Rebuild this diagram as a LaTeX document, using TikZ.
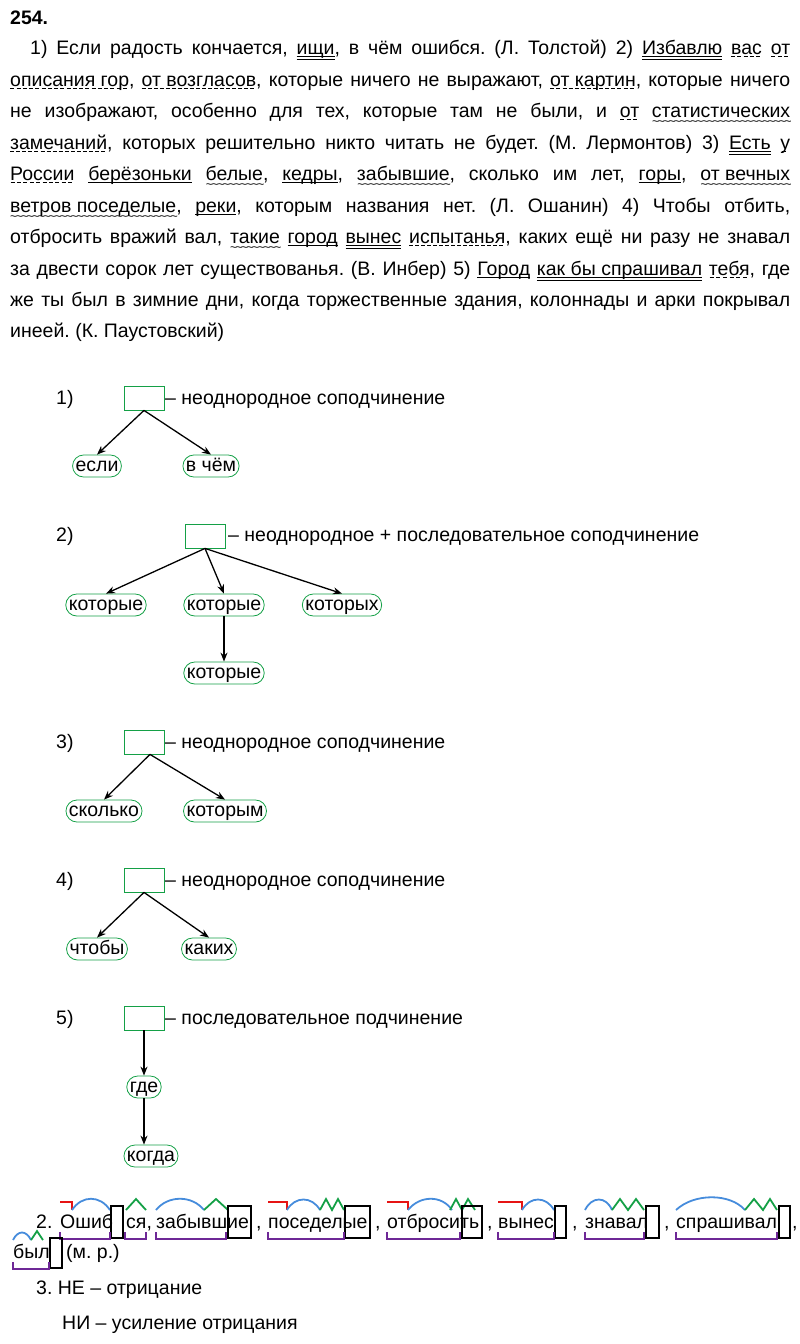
\documentclass[tikz,border=0pt]{standalone}
\usepackage{fontspec}
\setmainfont{Liberation Sans}
\usetikzlibrary{arrows.meta}
\definecolor{gr}{RGB}{20,160,70}
\definecolor{rd}{RGB}{230,20,20}
\definecolor{bl}{RGB}{70,140,220}
\definecolor{pu}{RGB}{110,40,150}
\frenchspacing
\newcommand{\myul}[1]{\setbox0\hbox{#1}\rlap{\raisebox{-3pt}{\rule{\wd0}{0.8pt}}}\box0\relax}
\newcommand{\myuul}[1]{\setbox0\hbox{#1}\rlap{\raisebox{-3pt}{\rule{\wd0}{0.8pt}}}\rlap{\raisebox{-5.5pt}{\rule{\wd0}{0.8pt}}}\box0\relax}
\newcommand{\mydul}[1]{\setbox0\hbox{#1}\rlap{\raisebox{-3pt}{\hbox to\wd0{\xleaders\hbox to 6pt{\rule{4pt}{0.8pt}\hfil}\hfil}}}\box0\relax}
\newcommand{\mywav}[1]{\setbox0\hbox{#1}\rlap{\raisebox{-8pt}{\hbox to\wd0{\xleaders\hbox{\fontsize{12}{12}\selectfont\char`\~\kern-1.5pt}\hfil}}}\box0\relax}
\begin{document}
\begin{tikzpicture}[x=1pt,y=-1pt,
  txt/.style={anchor=base west,inner sep=0pt,font=\fontsize{19.5}{22}\selectfont},
  oval/.style={draw=gr,thick,rounded corners=11pt,inner xsep=3pt,inner ysep=2pt,font=\fontsize{19.5}{22}\selectfont,text height=14pt,text depth=4pt},
  sbox/.style={draw=gr,thick,minimum width=40pt,minimum height=24pt,inner sep=0pt},
  arr/.style={-{Stealth[length=9pt,width=7pt]},line width=1.3pt},
  pre/.style={rd,line width=1.8pt},
  root/.style={bl,line width=1.8pt},
  suf/.style={gr,line width=1.8pt},
  stem/.style={pu,line width=2pt},
  endb/.style={black,line width=1.3pt}]
\useasboundingbox (0,0) rectangle (800,1344);
\node[txt,font=\fontsize{19.5}{22}\selectfont\bfseries] (h) at (10,24) {254.};
\node[txt] (l1) at (30,54) {\hbox to 760pt{1) Если радость кончается, \myuul{ищи}, в чём ошибся. (Л. Толстой) 2) \myuul{Избавлю} \mydul{вас} \mydul{от}}};
\node[txt] (l2) at (10,86) {\hbox to 780pt{\mydul{описания гор}, \mydul{от возгласов}, которые ничего не выражают, \mydul{от картин}, которые ничего}};
\node[txt] (l3) at (10,117) {\hbox to 780pt{не изображают, особенно для тех, которые там не были, и \mydul{от} \mywav{статистических}}};
\node[txt] (l4) at (10,149) {\hbox to 780pt{\mydul{замечаний}, которых решительно никто читать не будет. (М. Лермонтов) 3) \myuul{Есть} \mydul{у}}};
\node[txt] (l5) at (10,180) {\hbox to 780pt{\mydul{России} \myul{берёзоньки} \mywav{белые}, \myul{кедры}, \mywav{забывшие}, сколько им лет, \myul{горы}, \mywav{от вечных}}};
\node[txt] (l6) at (10,212) {\hbox to 780pt{\mywav{ветров поседелые}, \myul{реки}, которым названия нет. (Л. Ошанин) 4) Чтобы отбить,}};
\node[txt] (l7) at (10,243) {\hbox to 780pt{отбросить вражий вал, \mywav{такие} \myul{город} \myuul{вынес} \mydul{испытанья}, каких ещё ни разу не знавал}};
\node[txt] (l8) at (10,275) {\hbox to 780pt{за двести сорок лет существованья. (В. Инбер) 5) \myul{Город} \myuul{как бы спрашивал} \mydul{тебя}, где}};
\node[txt] (l9) at (10,306) {\hbox to 780pt{же ты был в зимние дни, когда торжественные здания, колоннады и арки покрывал}};
\node[txt] (l10) at (10,337) {инеей. (К. Паустовский)};
% diagram 1
\node[txt] (n1) at (56,404) {1)};
\node[sbox] (b1) at (144,398) {};
\node[txt] (t1) at (165,404) {– неоднородное соподчинение};
\node[oval] (o11) at (97,466) {если};
\node[oval] (o12) at (211,466) {в чём};
\draw[arr] (b1.south) -- (o11.north);
\draw[arr] (b1.south) -- (o12.north);
% diagram 2
\node[txt] (n2) at (56,541) {2)};
\node[sbox] (b2) at (205,536) {};
\node[txt] (t2) at (228,541) {– неоднородное + последовательное соподчинение};
\node[oval] (o21) at (106,605) {которые};
\node[oval] (o22) at (224,605) {которые};
\node[oval] (o23) at (342,605) {которых};
\node[oval] (o24) at (224,673) {которые};
\draw[arr] (b2.south) -- (o21.north);
\draw[arr] (b2.south) -- (o22.north);
\draw[arr] (b2.south) -- (o23.north);
\draw[arr] (o22.south) -- (o24.north);
% diagram 3
\node[txt] (n3) at (56,748) {3)};
\node[sbox] (b3) at (144,742) {};
\node[txt] (t3) at (165,748) {– неоднородное соподчинение};
\node[oval] (o31) at (104,811) {сколько};
\node[oval] (o32) at (225,811) {которым};
\draw[arr] ([xshift=6pt]b3.south) -- (o31.north);
\draw[arr] ([xshift=6pt]b3.south) -- (o32.north);
% diagram 4
\node[txt] (n4) at (56,886) {4)};
\node[sbox] (b4) at (144,880) {};
\node[txt] (t4) at (165,886) {– неоднородное соподчинение};
\node[oval] (o41) at (97,949) {чтобы};
\node[oval] (o42) at (209,949) {каких};
\draw[arr] (b4.south) -- (o41.north);
\draw[arr] (b4.south) -- (o42.north);
% diagram 5
\node[txt] (n5) at (56,1024) {5)};
\node[sbox] (b5) at (144,1018) {};
\node[txt] (t5) at (165,1024) {– последовательное подчинение};
\node[oval] (o51) at (144,1087) {где};
\node[oval] (o52) at (151,1156) {когда};
\draw[arr] (b5.south) -- (o51.north);
\draw[arr] (o51.south) -- (o51.south |- o52.north);
% part 2
\node[txt] (p2a) at (36,1228) {2.};
\node[txt] (w1a) at (60,1228) {Ошиб};
\node[txt] (w1b) at (126,1228) {ся,};
\node[txt] (w2) at (156,1228) {забывшие};
\node[txt] (c2) at (256,1228) {,};
\node[txt] (w3) at (268,1228) {поседелые};
\node[txt] (c3) at (375,1228) {,};
\node[txt] (w4) at (387,1228) {отбросить};
\node[txt] (c4) at (487,1228) {,};
\node[txt] (w5) at (498,1228) {вынес};
\node[txt] (c5) at (572,1228) {,};
\node[txt] (w6) at (585,1228) {знавал};
\node[txt] (c6) at (664,1228) {,};
\node[txt] (w7) at (676,1228) {спрашивал};
\node[txt] (c7) at (792,1228) {,};
\node[txt] (w8) at (13,1258) {был};
\node[txt] (mr) at (66,1258) {(м. р.)};
% marks Ошибся
\draw[pre] (60,1202) -- (72,1202) -- (72,1210);
\draw[root] (72,1210) .. controls (82,1195) and (100,1195) .. (110,1210);
\draw[endb] (111,1206) rectangle (123,1238);
\draw[suf] (126,1210) -- (136,1199) -- (146,1210);
\draw[stem] (60,1232) -- (60,1239) -- (110,1239) -- (110,1232);
\draw[stem] (125,1232) -- (125,1239) -- (146,1239) -- (146,1232);
% забывшие
\draw[root] (156,1210) .. controls (168,1195) and (192,1195) .. (204,1210);
\draw[suf] (204,1210) -- (216,1199) -- (228,1210);
\draw[endb] (228,1206) rectangle (251,1238);
\draw[stem] (156,1232) -- (156,1239) -- (226,1239) -- (226,1232);
% поседелые
\draw[pre] (268,1202) -- (287,1202) -- (287,1210);
\draw[root] (287,1210) .. controls (295,1196) and (312,1196) .. (320,1210);
\draw[suf] (320,1210) -- (326,1199) -- (332,1210) -- (338,1199) -- (344,1210);
\draw[endb] (345,1206) rectangle (370,1238);
\draw[stem] (268,1232) -- (268,1239) -- (344,1239) -- (344,1232);
% отбросить
\draw[pre] (387,1202) -- (408,1202) -- (408,1210);
\draw[root] (408,1210) .. controls (420,1195) and (442,1195) .. (452,1210);
\draw[suf] (450,1210) -- (456,1199) -- (462,1210) -- (468,1199) -- (475,1210);
\draw[endb] (462,1206) rectangle (482,1238);
\draw[stem] (387,1232) -- (387,1239) -- (460,1239) -- (460,1232);
% вынес
\draw[pre] (498,1202) -- (522,1202) -- (522,1210);
\draw[root] (522,1210) .. controls (530,1196) and (546,1196) .. (554,1210);
\draw[endb] (555,1206) rectangle (566,1238);
\draw[stem] (498,1232) -- (498,1239) -- (554,1239) -- (554,1232);
% знавал
\draw[root] (585,1210) .. controls (592,1196) and (606,1196) .. (612,1210);
\draw[suf] (612,1210) -- (620,1199) -- (628,1210) -- (636,1199) -- (644,1210);
\draw[endb] (646,1206) rectangle (659,1238);
\draw[stem] (585,1232) -- (585,1239) -- (644,1239) -- (644,1232);
% спрашивал
\draw[root] (676,1210) .. controls (694,1193) and (730,1193) .. (745,1210);
\draw[suf] (745,1210) -- (754,1199) -- (763,1210) -- (770,1199) -- (777,1210);
\draw[endb] (779,1206) rectangle (790,1238);
\draw[stem] (676,1232) -- (676,1239) -- (777,1239) -- (777,1232);
% был
\draw[root] (13,1240) .. controls (18,1230) and (26,1230) .. (31,1240);
\draw[suf] (31,1240) -- (37,1231) -- (43,1240);
\draw[endb] (50,1238) rectangle (62,1268);
\draw[stem] (13,1262) -- (13,1269) -- (49,1269) -- (49,1262);
% part 3
\node[txt] (p3) at (36,1294) {3. НЕ – отрицание};
\node[txt] (p3b) at (62,1329) {НИ – усиление отрицания};
\end{tikzpicture}
\end{document}
